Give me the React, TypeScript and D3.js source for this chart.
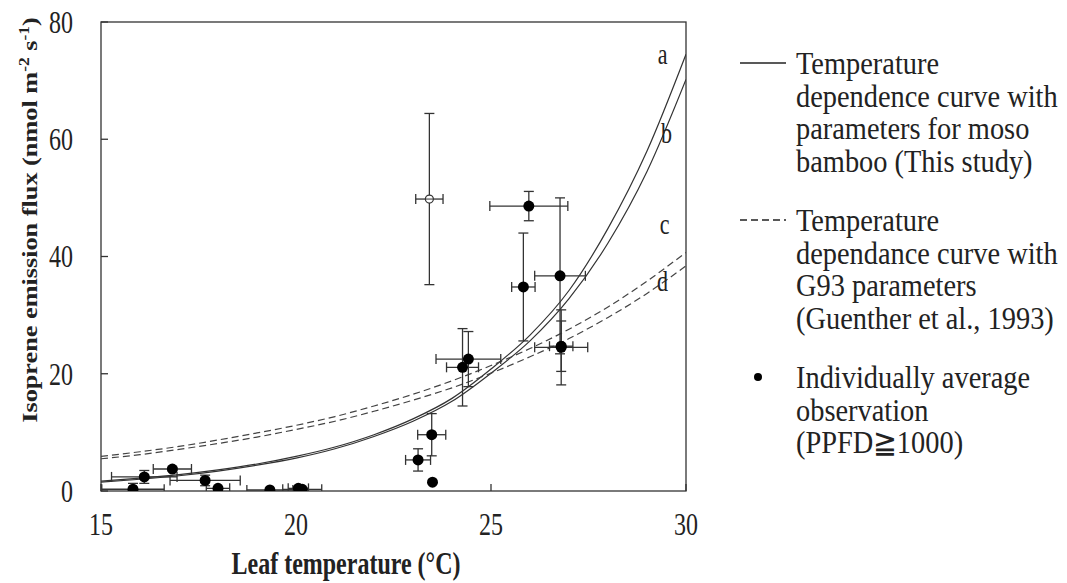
import React from 'react';
import * as d3 from 'd3';

// model curves at whole degrees
const curveTemps = [15, 16, 17, 18, 19, 20, 21, 22, 23, 24, 25, 26, 27, 28, 29, 30];
const curveA = [1.7, 2.2, 2.8, 3.6, 4.6, 5.9, 7.5, 9.6, 12.3, 15.8, 20.8, 26.6, 34.2, 44.8, 58.0, 74.5];
const curveB = [1.5, 2.0, 2.6, 3.4, 4.4, 5.6, 7.2, 9.3, 11.9, 15.3, 20.1, 25.6, 32.8, 42.3, 54.5, 70.2];
const curveC = [5.9, 6.7, 7.6, 8.7, 9.9, 11.2, 12.7, 14.5, 16.5, 18.8, 21.4, 24.3, 27.6, 31.4, 35.8, 40.7];
const curveD = [5.5, 6.2, 7.1, 8.1, 9.2, 10.5, 11.9, 13.6, 15.5, 17.6, 20.1, 22.9, 26.0, 29.6, 33.7, 38.4];

// individually averaged observations (filled dots)
const obsTemp = [15.82, 16.11, 16.83, 17.67, 18.0, 19.33, 20.06, 20.16, 23.13, 23.48, 23.5, 24.27, 24.42, 25.83, 25.97, 26.77, 26.8, 26.8];
const obsFlux = [0.3, 2.4, 3.75, 1.8, 0.45, 0.17, 0.45, 0.28, 5.3, 9.6, 1.5, 21.1, 22.5, 34.8, 48.6, 36.7, 24.5, 24.7];
const obsTempErr = [0.8, 0.84, 0.49, 0.9, 0.3, 0.59, 0.26, 0.5, 0.32, 0.36, 0, 0.41, 0.83, 0.3, 1.0, 0.65, 0.68, 0.3];
const obsFluxErr = [1.0, 1.1, 0.3, 0.9, 0.3, 0.1, 0.3, 0.3, 1.9, 3.6, 0, 6.6, 4.7, 9.2, 2.5, 13.3, 6.4, 4.3];

// outlier (open circle)
const openTemp = [23.42];
const openFlux = [49.8];
const openTempErr = [0.35];
const openFluxErr = [14.6];

const xTicks = [15, 20, 25, 30];
const yTicks = [0, 20, 40, 60, 80];

const curveNames = ['a', 'b', 'c', 'd'];
const labelTemp = [29.4, 29.5, 29.45, 29.4];
const labelFlux = [74.5, 61.1, 45.6, 35.9];

const legendSolid = ['Temperature', 'dependence curve with', 'parameters for moso', 'bamboo (This study)'];
const legendDashed = ['Temperature', 'dependance curve with', 'G93 parameters', '(Guenther et al., 1993)'];
const legendDots = ['Individually average', 'observation', '(PPFD\u22671000)'];

const W = 1067;
const H = 583;
const FONT = '"Liberation Serif", "Times New Roman", serif';
const INK = '#222';
const SY = 1.3; // figure text is drawn tall
const LSY = 1.12;

const App = () => {
  const x = d3.scaleLinear().domain([15, 30]).range([101, 686]);
  const y = d3.scaleLinear().domain([0, 80]).range([491, 22]);

  const line = d3.line<number>()
    .x((d, i) => x(curveTemps[i]))
    .y(d => y(d))
    .curve(d3.curveMonotoneX);

  const errBars = (t: number, f: number, te: number, fe: number, key: string) => {
    const cx = x(t), cy = y(f), cap = 5;
    return (
      <g key={key} stroke="#333" strokeWidth={1.3} fill="none">
        {te > 0 && <line x1={x(t - te)} x2={x(t + te)} y1={cy} y2={cy} />}
        {te > 0 && <line x1={x(t - te)} x2={x(t - te)} y1={cy - cap} y2={cy + cap} />}
        {te > 0 && <line x1={x(t + te)} x2={x(t + te)} y1={cy - cap} y2={cy + cap} />}
        {fe > 0 && <line x1={cx} x2={cx} y1={y(f - fe)} y2={y(f + fe)} />}
        {fe > 0 && <line x1={cx - cap} x2={cx + cap} y1={y(f - fe)} y2={y(f - fe)} />}
        {fe > 0 && <line x1={cx - cap} x2={cx + cap} y1={y(f + fe)} y2={y(f + fe)} />}
      </g>
    );
  };

  const tallText = (tx: number, ty: number, s: string, size: number, anchor: string, bold = false, key?: string, sy = SY) => (
    <text key={key} transform={`translate(${tx},${ty}) scale(1,${sy})`} dy="0.35em"
      fontSize={size} textAnchor={anchor} fontWeight={bold ? 'bold' : 'normal'}>{s}</text>
  );

  const legendX = 796;
  const rowH = 32.6;

  return (
    <svg width={W} height={H} style={{ position: 'absolute', left: 0, top: 0, background: '#fff' }}
      fontFamily={FONT} fill={INK}>
      <defs>
        <clipPath id="plot">
          <rect x={101} y={22} width={585} height={469} />
        </clipPath>
      </defs>

      {/* frame */}
      <rect x={101} y={22} width={585} height={469} fill="none" stroke="#333" strokeWidth={1.3} />

      {/* ticks, inside */}
      {yTicks.map(t => (
        <line key={'yt' + t} x1={101} x2={108} y1={y(t)} y2={y(t)} stroke="#333" strokeWidth={1.3} />
      ))}
      {xTicks.map(t => (
        <line key={'xt' + t} x1={x(t)} x2={x(t)} y1={491} y2={484} stroke="#333" strokeWidth={1.3} />
      ))}
      {yTicks.map(t => tallText(73, y(t), String(t), 24, 'end', false, 'yl' + t))}
      {xTicks.map(t => tallText(x(t), 524, String(t), 24, 'middle', false, 'xl' + t))}

      {tallText(346, 563, 'Leaf temperature (\u00B0C)', 24, 'middle', true)}
      <text transform={`translate(30,220) scale(1,1.25) rotate(-90)`} dy="0.35em" fontSize={21}
        fontWeight="bold" textAnchor="middle">
        Isoprene emission flux (nmol m<tspan dy={-8} fontSize={14}>-2</tspan>
        <tspan dy={8}> s</tspan><tspan dy={-8} fontSize={14}>-1</tspan><tspan dy={8}>)</tspan>
      </text>

      <g clipPath="url(#plot)">
        {/* curves */}
        <path d={line(curveA) || ''} fill="none" stroke="#333" strokeWidth={1.2} />
        <path d={line(curveB) || ''} fill="none" stroke="#333" strokeWidth={1.2} />
        <path d={line(curveC) || ''} fill="none" stroke="#444" strokeWidth={1.2} strokeDasharray="7,4" />
        <path d={line(curveD) || ''} fill="none" stroke="#444" strokeWidth={1.2} strokeDasharray="7,4" />

        {obsTemp.map((t, i) => errBars(t, obsFlux[i], obsTempErr[i], obsFluxErr[i], 'e' + i))}
        {openTemp.map((t, i) => errBars(t, openFlux[i], openTempErr[i], openFluxErr[i], 'oe' + i))}
        {obsTemp.map((t, i) => (
          <circle key={'d' + i} cx={x(t)} cy={y(obsFlux[i])} r={5.5} fill="#000" />
        ))}
        {openTemp.map((t, i) => (
          <g key={'o' + i}>
            <circle cx={x(t)} cy={y(openFlux[i])} r={4} fill="#fff" stroke="#333" strokeWidth={1.2} />
            <line x1={x(t) - 4} x2={x(t) + 4} y1={y(openFlux[i])} y2={y(openFlux[i])} stroke="#333" strokeWidth={1} />
          </g>
        ))}
      </g>

      {curveNames.map((n, i) => tallText(x(labelTemp[i]), y(labelFlux[i]), n, 22, 'middle', false, 'cl' + n))}

      {/* legend */}
      <line x1={740} x2={786} y1={63} y2={63} stroke="#222" strokeWidth={1.3} />
      {legendSolid.map((s, i) => tallText(legendX, 63 + i * rowH, s, 28.4, 'start', false, 'ls' + i, LSY))}
      <line x1={740} x2={786} y1={220} y2={220} stroke="#222" strokeWidth={1.3} strokeDasharray="7,4" />
      {legendDashed.map((s, i) => tallText(legendX, 220 + i * rowH, s, 28.4, 'start', false, 'ld' + i, LSY))}
      <circle cx={758} cy={377} r={4} fill="#000" />
      {legendDots.map((s, i) => tallText(legendX, 377 + i * rowH, s, 28.4, 'start', false, 'lo' + i, LSY))}
    </svg>
  );
};

export default App;
